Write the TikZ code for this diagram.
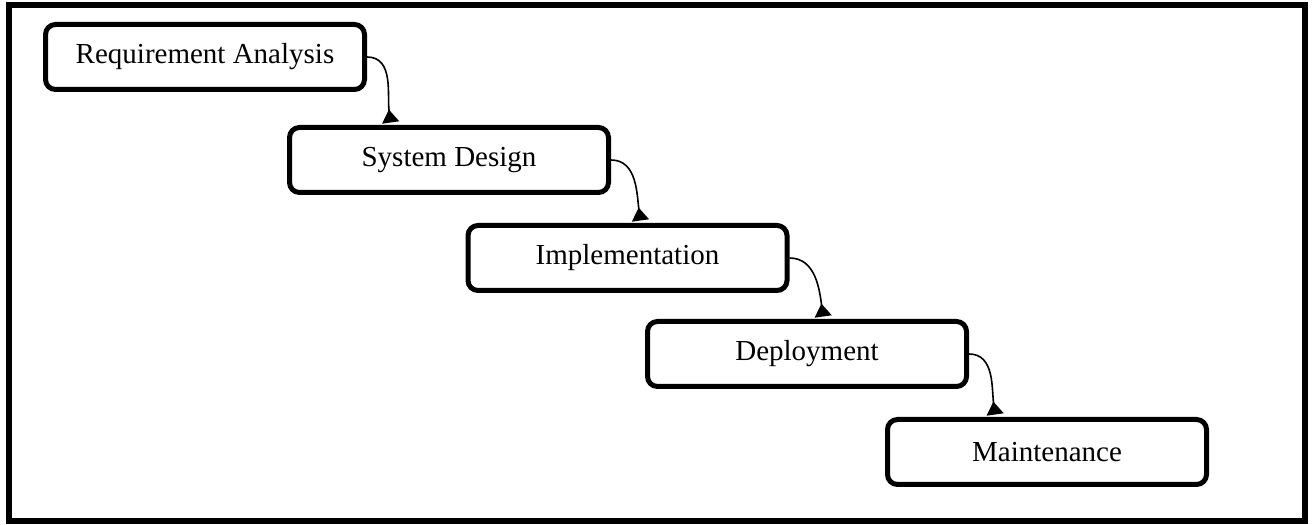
\documentclass[tikz,border=0pt]{standalone}
\usepackage{fontspec}
\setmainfont{Liberation Serif}
\usetikzlibrary{arrows.meta,calc}

\begin{document}
\begin{tikzpicture}[x=0.5pt,y=0.5pt,
        stage/.style={draw, line width=2.5pt, rounded corners=5pt, fill=white,
            minimum width=159.5pt, minimum height=32.5pt, inner sep=0pt,
            font=\fontsize{14.5}{17}\selectfont},
        flow/.style={line width=0.8pt, -{Triangle[reversed,width=8.5pt,length=6.5pt]}}]
        % Рамка
        \useasboundingbox (0,0) rectangle (1314,525);
        \draw[line width=3pt] (9,4) rectangle (1305,520);

        % Этапы
        \node[stage] (req) at (205,468) {Requirement Analysis};
        \node[stage] (des) at (449,365) {System Design};
        \node[stage] (impl) at (627.5,267) {Implementation};
        \node[stage] (dep) at (807,171) {Deployment};
        \node[stage] (maint) at (1047,73) {Maintenance};

        % Переходы
        \foreach \src/\dst/\pos in {req/des/0.32, des/impl/0.54, impl/dep/0.55, dep/maint/0.34}
        {
            \draw[flow] (\src.east) to[out=0,in=98] ($(\dst.north west)!\pos!(\dst.north east)+(0,2.5)$);
        }
    \end{tikzpicture}
\end{document}
